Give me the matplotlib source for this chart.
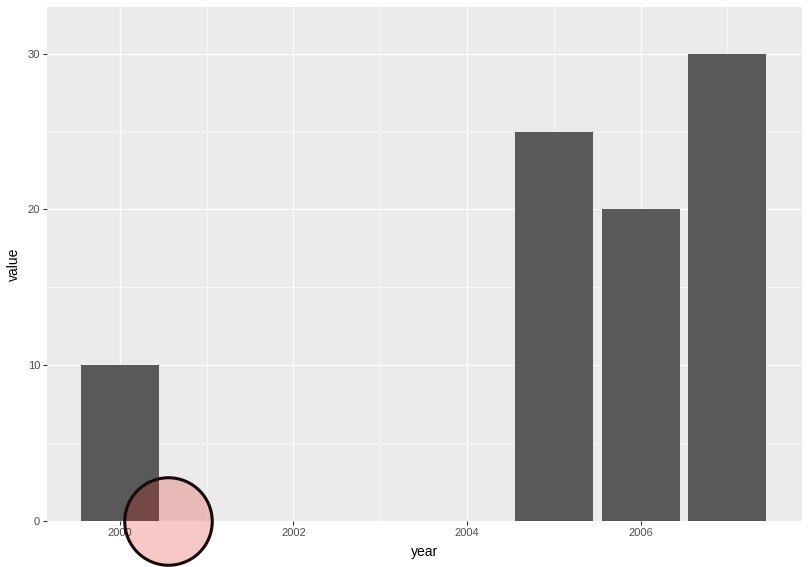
import matplotlib.pyplot as plt

plt.rcParams['font.family'] = ['Liberation Sans', 'DejaVu Sans']

# data
years = [2000, 2005, 2006, 2007]
values = [10, 25, 20, 30]
point_x = [2000.55]
point_y = [0]

fig = plt.figure(figsize=(8.09, 5.67), dpi=100)
ax = fig.add_axes([47 / 809, 46 / 567, 755 / 809, 514 / 567])
ax.set_facecolor('#EBEBEB')

ax.bar(years, values, width=0.9, color='#595959', zorder=2)

# big translucent point
ax.scatter(point_x, point_y, s=63 ** 2, facecolor=(214 / 255, 13 / 255, 0, 0.22),
           edgecolor='#150808', linewidth=2.2, zorder=5, clip_on=False)

ax.set_xlim(1999.16, 2007.86)
ax.set_ylim(0, 33.0)
ax.set_xticks([2000, 2002, 2004, 2006])
ax.set_xticks([2001, 2003, 2005, 2007], minor=True)
ax.set_yticks([0, 10, 20, 30])
ax.set_yticks([5, 15, 25], minor=True)

ax.grid(which='major', color='white', linewidth=1.0, zorder=0)
ax.grid(which='minor', color='white', linewidth=0.5, zorder=0)
ax.set_axisbelow(True)
for s in ax.spines.values():
    s.set_visible(False)

ax.tick_params(which='major', length=3, width=0.8, color='#333333',
               labelsize=8, labelcolor='#4D4D4D', pad=2)
ax.tick_params(which='minor', length=0)

ax.set_xlabel('year', fontsize=10, labelpad=5)
ax.set_ylabel('value', fontsize=10, labelpad=5)

fig.savefig('out.png', dpi=100)
